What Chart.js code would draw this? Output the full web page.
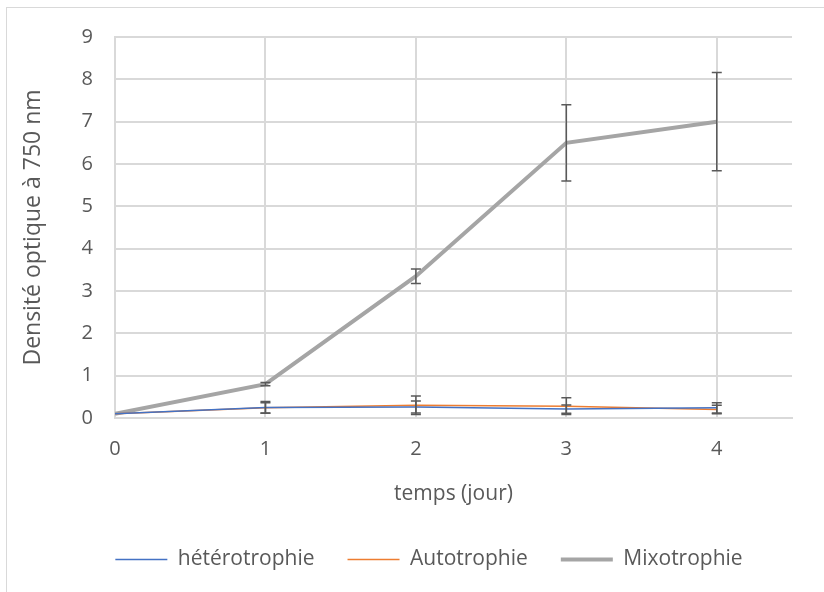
<!DOCTYPE html>
<html>
<head>
<meta charset="utf-8">
<script src="https://cdn.jsdelivr.net/npm/chart.js@4"></script>
<style>
  body { margin: 0; background: #fff; }
  #wrap { position: relative; width: 824px; height: 592px; overflow: hidden; }
  #frame { position: absolute; left: 6px; top: 7px; width: 830px; height: 600px; border: 1px solid #d9d9d9; }
  canvas { position: absolute; left: 0; top: 0; }
</style>
</head>
<body>
<div id="wrap">
  <div id="frame"></div>
  <canvas id="chart" width="824" height="592"></canvas>
</div>
<script>
const jours = [0, 1, 2, 3, 4];
const heterotrophie = [0.1, 0.25, 0.26, 0.21, 0.24];
const autotrophie = [0.1, 0.24, 0.3, 0.28, 0.2];
const mixotrophie = [0.1, 0.8, 3.35, 6.5, 7.0];
const errHetero = [0, 0.14, 0.14, 0.1, 0.12];
const errAuto = [0, 0.12, 0.22, 0.2, 0.1];
const errMixo = [0, 0.04, 0.17, 0.9, 1.16];
const yTicks = [0, 1, 2, 3, 4, 5, 6, 7, 8, 9];

const toPoints = (vals) => jours.map((x, i) => ({ x: x, y: vals[i] }));

// barres d'erreur dessinées avec les échelles du graphique
const errorBars = {
  id: 'errorBars',
  afterDatasetsDraw(chart) {
    const ctx = chart.ctx;
    const xs = chart.scales.x;
    const ys = chart.scales.y;
    const errs = [errHetero, errAuto, errMixo];
    ctx.save();
    ctx.strokeStyle = '#595959';
    ctx.lineWidth = 1.5;
    chart.data.datasets.forEach((ds, k) => {
      ds.data.forEach((p, i) => {
        const e = errs[k][i];
        if (!e) return;
        const px = xs.getPixelForValue(p.x);
        const top = ys.getPixelForValue(p.y + e);
        const bot = ys.getPixelForValue(p.y - e);
        ctx.beginPath();
        ctx.moveTo(px, top); ctx.lineTo(px, bot);
        ctx.moveTo(px - 5, top); ctx.lineTo(px + 5, top);
        ctx.moveTo(px - 5, bot); ctx.lineTo(px + 5, bot);
        ctx.stroke();
      });
    });
    ctx.restore();
  }
};

// décale la légende un peu vers la droite, comme dans Excel
const legendShift = {
  id: 'legendShift',
  afterLayout(chart) {
    chart.legend.left += 23;
    chart.legend.right += 23;
  }
};

Chart.defaults.font.family = "'Open Sans', sans-serif";
Chart.defaults.color = '#595959';

new Chart(document.getElementById('chart'), {
  type: 'scatter',
  data: {
    datasets: [{
      label: 'hétérotrophie',
      data: toPoints(heterotrophie),
      borderColor: '#4472C4',
      backgroundColor: '#4472C4',
      borderWidth: 1.5,
      showLine: true,
      pointRadius: 0
    }, {
      label: 'Autotrophie',
      data: toPoints(autotrophie),
      borderColor: '#ED7D31',
      backgroundColor: '#ED7D31',
      borderWidth: 1.5,
      showLine: true,
      pointRadius: 0
    }, {
      label: 'Mixotrophie',
      data: toPoints(mixotrophie),
      borderColor: '#A5A5A5',
      backgroundColor: '#A5A5A5',
      borderWidth: 4,
      showLine: true,
      pointRadius: 0
    }]
  },
  options: {
    responsive: false,
    animation: false,
    layout: { padding: { left: 20, right: 32, top: 37, bottom: 12 } },
    plugins: {
      tooltip: { enabled: false },
      legend: {
        position: 'bottom',
        labels: {
          usePointStyle: true,
          pointStyle: 'line',
          pointStyleWidth: 52,
          boxWidth: 52,
          padding: 33,
          font: { size: 21 }
        }
      }
    },
    scales: {
      x: {
        type: 'linear',
        min: 0,
        max: 4.5,
        afterBuildTicks: (axis) => { axis.ticks = jours.map(v => ({ value: v })); },
        afterFit: (axis) => { axis.height = 98; },
        ticks: { font: { size: 20 }, padding: 19 },
        grid: { color: '#d9d9d9', lineWidth: 2, drawTicks: false },
        border: { color: '#d9d9d9', width: 2 },
        title: { display: true, text: 'temps (jour)', font: { size: 21 }, padding: { top: 4, bottom: 9 } }
      },
      y: {
        min: 0,
        max: 9,
        afterBuildTicks: (axis) => { axis.ticks = yTicks.map(v => ({ value: v })); },
        afterFit: (axis) => { axis.width = 95; },
        ticks: { font: { size: 20 }, padding: 22 },
        grid: { color: '#d9d9d9', lineWidth: 2, drawTicks: false },
        border: { color: '#d9d9d9', width: 2 },
        title: { display: true, text: 'Densité optique à 750 nm', font: { size: 23 }, padding: 0 }
      }
    }
  },
  plugins: [errorBars, legendShift]
});
</script>
</body>
</html>
